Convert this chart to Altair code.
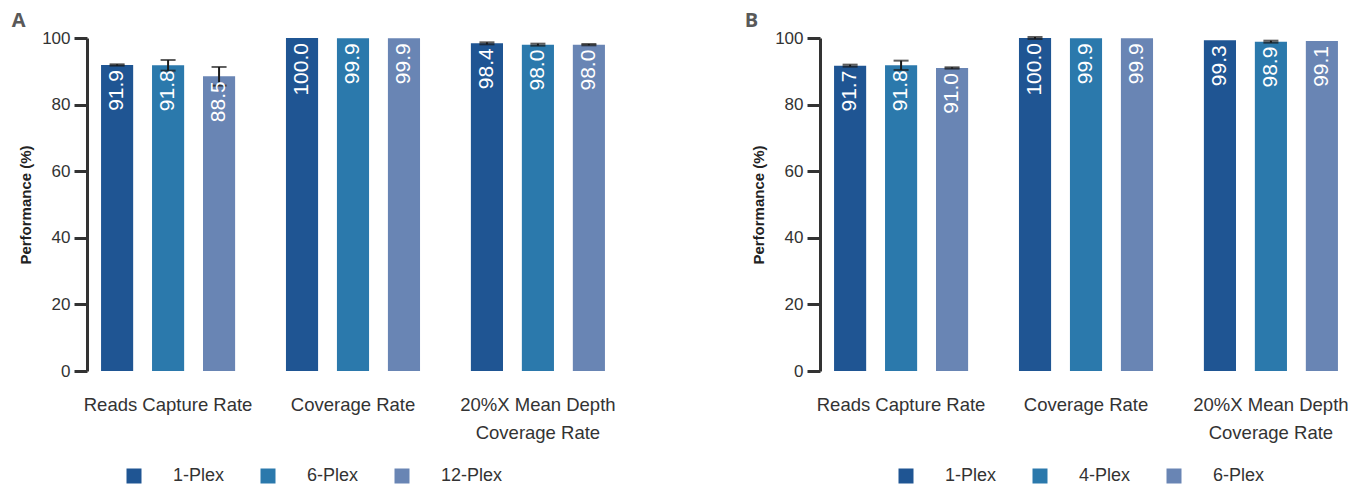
import altair as alt
import pandas as pd

categories = ["Reads Capture Rate", "Coverage Rate", "20%X Mean Depth Coverage Rate"]
colors = ["#1f5593", "#2b79ac", "#6985b4"]

series_a = ["1-Plex", "6-Plex", "12-Plex"]
values_a = [[91.9, 100.0, 98.4], [91.8, 99.9, 98.0], [88.5, 99.9, 98.0]]
errors_a = [[0.2, 0.0, 0.3], [1.6, 0.0, 0.3], [2.8, 0.0, 0.2]]

series_b = ["1-Plex", "4-Plex", "6-Plex"]
values_b = [[91.7, 100.0, 99.3], [91.8, 99.9, 98.9], [91.0, 99.9, 99.1]]
errors_b = [[0.3, 0.3, 0.0], [1.4, 0.0, 0.3], [0.2, 0.0, 0.0]]

FONT = "Liberation Sans"


def make_df(series, values, errors):
    rows = []
    for si, s in enumerate(series):
        for ci, c in enumerate(categories):
            v = values[si][ci]
            e = errors[si][ci]
            rows.append({"cat": c, "series": s, "value": v, "lo": v - e, "hi": v + e, "err": e})
    return pd.DataFrame(rows)


def panel(letter, series, values, errors, legend_x):
    df = make_df(series, values, errors)
    x = alt.X("cat:N", sort=categories, title=None,
              scale=alt.Scale(domain=categories, paddingInner=0.173, paddingOuter=0.025),
              axis=alt.Axis(labelExpr="datum.value == '20%X Mean Depth Coverage Rate' ? ['20%X Mean Depth', 'Coverage Rate'] : datum.value"))
    xo = alt.XOffset("series:N", scale=alt.Scale(domain=series, paddingInner=0.37, paddingOuter=0.185))
    y = alt.Y("value:Q", scale=alt.Scale(domain=[0, 100]), title="Performance (%)",
              axis=alt.Axis(values=[0, 20, 40, 60, 80, 100]))
    color = alt.Color("series:N",
                      scale=alt.Scale(domain=series, range=colors),
                      legend=alt.Legend(title=None, orient="none", direction="horizontal",
                                        legendX=legend_x, legendY=429,
                                        symbolType="square", symbolSize=225, symbolStrokeWidth=0,
                                        labelFontSize=18, labelFont=FONT, labelColor="#333333",
                                        labelOffset=30, columnPadding=34))
    base = alt.Chart(df)
    bars = base.mark_bar().encode(x=x, xOffset=xo, y=y, color=color)
    text = base.mark_text(angle=270, align="right", baseline="middle", dx=-5,
                          color="white", fontSize=21, font=FONT).encode(
        x=x, xOffset=xo, y=y, text=alt.Text("value:Q", format=".1f"))
    err_df = df[df["err"] > 0]
    ebase = alt.Chart(err_df)
    rule = ebase.mark_rule(color="#1a1a1a", strokeWidth=2).encode(
        x=x, xOffset=xo, y=alt.Y("lo:Q", title="Performance (%)"), y2="hi:Q")
    cap_hi = ebase.mark_tick(color="#1a1a1a", thickness=2, size=15, orient="horizontal").encode(
        x=x, xOffset=xo, y=alt.Y("hi:Q", title="Performance (%)"))
    cap_lo = ebase.mark_tick(color="#1a1a1a", thickness=2, size=15, orient="horizontal").encode(
        x=x, xOffset=xo, y=alt.Y("lo:Q", title="Performance (%)"))
    return alt.layer(bars, rule, cap_hi, cap_lo, text).properties(
        width=532, height=333,
        title=alt.TitleParams(letter, anchor="start", frame="bounds", fontSize=20, font="Open Sans",
                              fontWeight="bold", color="#595959", dx=-7, offset=-2))


chart = alt.hconcat(
    panel("A", series_a, values_a, errors_a, 38),
    panel("B", series_b, values_b, errors_b, 77),
    spacing=125,
).resolve_scale(color="independent", xOffset="independent", x="independent").resolve_legend(
    color="independent").configure_view(
    stroke=None
).configure_axisX(
    labelAngle=0, domain=False, ticks=False, labelPadding=24, labelFontSize=18.5,
    labelColor="#333333", labelFont=FONT, labelLineHeight=28, labelLimit=300
).configure_axisY(
    grid=False, domainWidth=3, domainColor="#333333", tickColor="#333333", tickWidth=3,
    tickSize=13, labelFontSize=17, labelColor="#333333", labelFont=FONT, labelPadding=4,
    titleFont=FONT, titleFontSize=15, titleFontWeight="bold", titleColor="#222222",
    titlePadding=8
).properties(padding={"left": 3, "top": 3, "right": 0, "bottom": 0})

chart.save("out.html", embed_options={"renderer": "svg", "actions": False})
